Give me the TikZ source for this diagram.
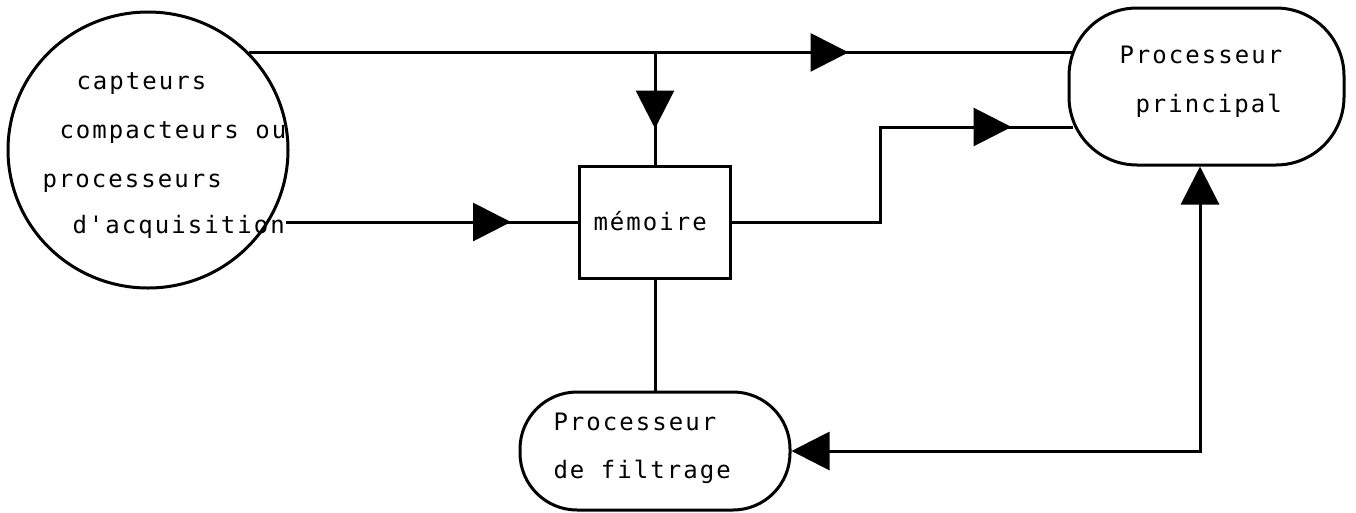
\documentclass[tikz,border=0pt]{standalone}
\usepackage{fontspec}
\newfontfamily\tw[LetterSpace=8.5]{DejaVu Sans Mono}
\usetikzlibrary{arrows.meta,shapes.geometric,decorations.markings,calc}
\begin{document}
\begin{tikzpicture}[x=1pt,y=-1pt, line width=3pt,
  Tri/.tip={Triangle[length=38pt,width=38pt]},
  lbl/.style={inner sep=0pt, font=\tw\fontsize{24}{28}\selectfont, anchor=base west},
  midarrow/.style={postaction={decorate,decoration={markings,mark=at position #1 with {\arrow{Tri}}}}},
  boxnode/.style={draw, rectangle, inner sep=0pt, minimum width=151pt, minimum height=112pt},
  roundnode/.style={draw, rectangle, inner sep=0pt}
]
\useasboundingbox (0,0) rectangle (1356,512);
% nodes
\node[draw, ellipse, inner sep=0pt, minimum width=280pt, minimum height=276pt] (capt) at (148,150) {};
\node[boxnode] (mem) at (655,222) {};
\node[roundnode, rounded corners=68pt, minimum width=275pt, minimum height=157pt] (prin) at (1206.5,86.5) {};
\node[roundnode, rounded corners=57pt, minimum width=270pt, minimum height=118pt] (filt) at (655,451) {};
% labels
\node[lbl] (t1) at (75,89) {capteurs};
\node[lbl] (t2) at (58,138) {compacteurs ou};
\node[lbl] (t3) at (41,187) {processeurs};
\node[lbl] (acq) at (71,233) {d'acquisition};
\node[lbl] (tm) at (592,230) {mémoire};
\node[lbl] (tp1) at (1118,63) {Processeur};
\node[lbl] (tp2) at (1134,112) {principal};
\node[lbl] (tf1) at (552,430) {Processeur};
\node[lbl] (tf2) at (552,478) {de filtrage};
% connectors
\draw[midarrow=-223pt] (capt.44.8) -- ($(capt.44.8 -| prin.west)+(4,0)$);
\draw[midarrow=-36pt] (capt.44.8 -| mem.north) -- (mem.north);
\draw[midarrow=-67pt] (acq.east |- mem.west) -- (mem.west);
\coordinate (kink) at (880,127);
\draw[midarrow=-61pt] (mem.east) -| (kink) -- ($(kink -| prin.west)+(5,0)$);
\draw (mem.south) -- (filt.north);
\coordinate (rc) at (1200,451);
\draw[Tri-Tri] (rc |- prin.south) -- (rc) -- (filt.east);
\end{tikzpicture}
\end{document}
